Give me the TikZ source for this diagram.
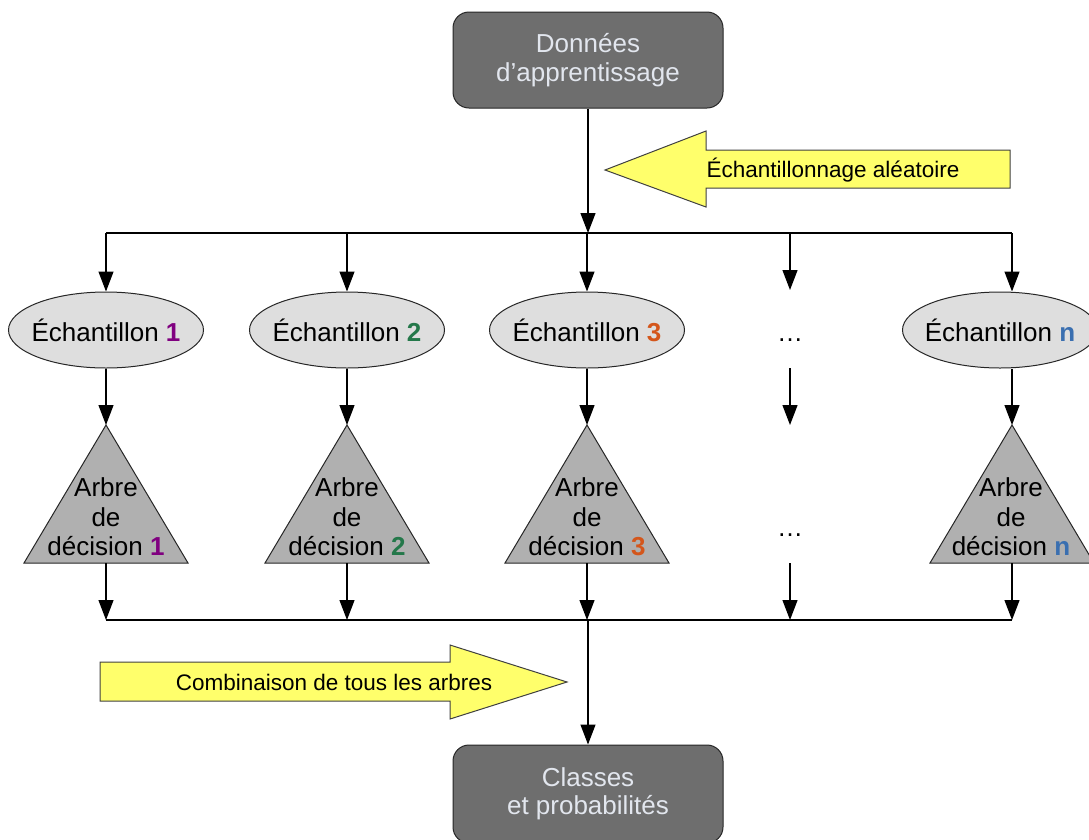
\documentclass[tikz,border=0pt]{standalone}
\usepackage{fontspec}
\setmainfont{Liberation Sans}
\usetikzlibrary{arrows.meta,shapes.geometric}
\definecolor{boxgray}{HTML}{6E6E6E}
\definecolor{boxtext}{HTML}{E2E6EE}
\definecolor{ellgray}{HTML}{DEDEDE}
\definecolor{trigray}{HTML}{B0B0B0}
\definecolor{yel}{HTML}{FFFF6B}
\definecolor{numA}{HTML}{800080}
\definecolor{numB}{HTML}{24784A}
\definecolor{numC}{HTML}{D4561B}
\definecolor{numN}{HTML}{3A6FB0}
\begin{document}
\begin{tikzpicture}[x=1pt,y=-1pt,
  every node/.style={font=\fontsize{26}{29}\selectfont},
  box/.style={draw=black!85, line width=1pt, fill=boxgray, rounded corners=16pt,
    minimum width=270pt, minimum height=96pt, text=boxtext, align=center,
    font=\fontsize{26}{28.5}\selectfont},
  samp/.style={ellipse, draw=black!85, line width=1pt, fill=ellgray,
    minimum width=195pt, minimum height=76pt, inner xsep=-8pt, inner ysep=0pt},
  trishape/.style={draw=black!85, line width=1pt, fill=trigray},
  tritext/.style={align=center, font=\fontsize{26}{29.5}\selectfont, inner sep=0pt},
  arr/.style={-{Triangle[width=15pt,length=20pt]}, line width=1.2pt},
  ln/.style={line width=1.2pt},
  yarrow/.style={draw=black!75, line width=1pt, fill=yel},
  ylabel/.style={font=\fontsize{22.5}{26}\selectfont, inner sep=0pt},
  dotsstyle/.style={anchor=base, inner sep=0pt}
]
\useasboundingbox (0,0) rectangle (1089,839);

% top and bottom boxes
\node[box] (src) at (588,60) {\raisebox{-2pt}{Données}\\\raisebox{-2pt}{d’apprentissage}};
\node[box, minimum height=98pt] (dst) at (588,794) {Classes\\et probabilités};

% yellow arrows
\draw[yarrow] (605,170) -- (706,131) -- (706,150) -- (1010,150) -- (1010,188) -- (706,188) -- (706,207) -- cycle;
\node[ylabel] (lab1) at (833,170) {Échantillonnage aléatoire};
\draw[yarrow] (100,662) -- (450,662) -- (450,645) -- (567,682) -- (450,719) -- (450,701) -- (100,701) -- cycle;
\node[ylabel] (lab2) at (334,682) {Combinaison de tous les arbres};

% distribution line
\coordinate (j1) at (588,233);
\coordinate (c1) at (106,233);
\coordinate (c2) at (347,233);
\coordinate (c3) at (587,233);
\coordinate (c4) at (790,233);
\coordinate (c5) at (1012,233);
\draw[arr] (src.south) -- (j1);
\draw[ln] (c1) -- (c5);

% samples
\node[samp] (e1) at (106,330) {Échantillon \textbf{\color{numA}1}};
\node[samp] (e2) at (347,330) {Échantillon \textbf{\color{numB}2}};
\node[samp] (e3) at (587,330) {Échantillon \textbf{\color{numC}3}};
\node[samp] (en) at (1000,330) {Échantillon \textbf{\color{numN}n}};
\node[dotsstyle] (dots1) at (790,341) {…};

\draw[arr] (c1) -- (e1.north);
\draw[arr] (c2) -- (e2.north);
\draw[arr] (c3) -- (e3.north);
\coordinate (d4a) at (790,290);
\draw[arr] (c4) -- (d4a);
\draw[arr] (c5) -- (c5 |- en.north);

% triangles
\coordinate (t1) at (106,425);
\coordinate (t2) at (347,425);
\coordinate (t3) at (587,425);
\coordinate (t5) at (1012,425);
\foreach \t in {t1,t2,t3,t5}{
  \draw[trishape] (\t) -- ++(82,138) -- ++(-164,0) -- cycle;
}
\node[tritext] (a1) at (106,517) {Arbre\\de\\décision \textbf{\color{numA}1}};
\node[tritext] (a2) at (347,517) {Arbre\\de\\décision \textbf{\color{numB}2}};
\node[tritext] (a3) at (587,517) {Arbre\\de\\décision \textbf{\color{numC}3}};
\node[tritext] (an) at (1011,517) {Arbre\\de\\décision \textbf{\color{numN}n}};
\node[dotsstyle] (dots2) at (790,536) {…};

\draw[arr] (e1.south) -- (t1);
\draw[arr] (e2.south) -- (t2);
\draw[arr] (e3.south) -- (t3);
\coordinate (d4b) at (790,368);
\coordinate (d4c) at (790,425);
\draw[arr] (d4b) -- (d4c);
\draw[arr] (t5 |- en.south) -- (t5);

% collection line
\coordinate (b1) at (106,563);
\coordinate (b2) at (347,563);
\coordinate (b3) at (587,563);
\coordinate (b4) at (790,563);
\coordinate (b5) at (1012,563);
\coordinate (f1) at (106,620);
\coordinate (f2) at (347,620);
\coordinate (f3) at (587,620);
\coordinate (f4) at (790,620);
\coordinate (f5) at (1012,620);
\draw[arr] (b1) -- (f1);
\draw[arr] (b2) -- (f2);
\draw[arr] (b3) -- (f3);
\draw[arr] (b4) -- (f4);
\draw[arr] (b5) -- (f5);
\draw[ln] (f1) -- (f5);
\coordinate (j2) at (588,620);
\draw[arr] (j2) -- (dst.north);
\end{tikzpicture}
\end{document}
